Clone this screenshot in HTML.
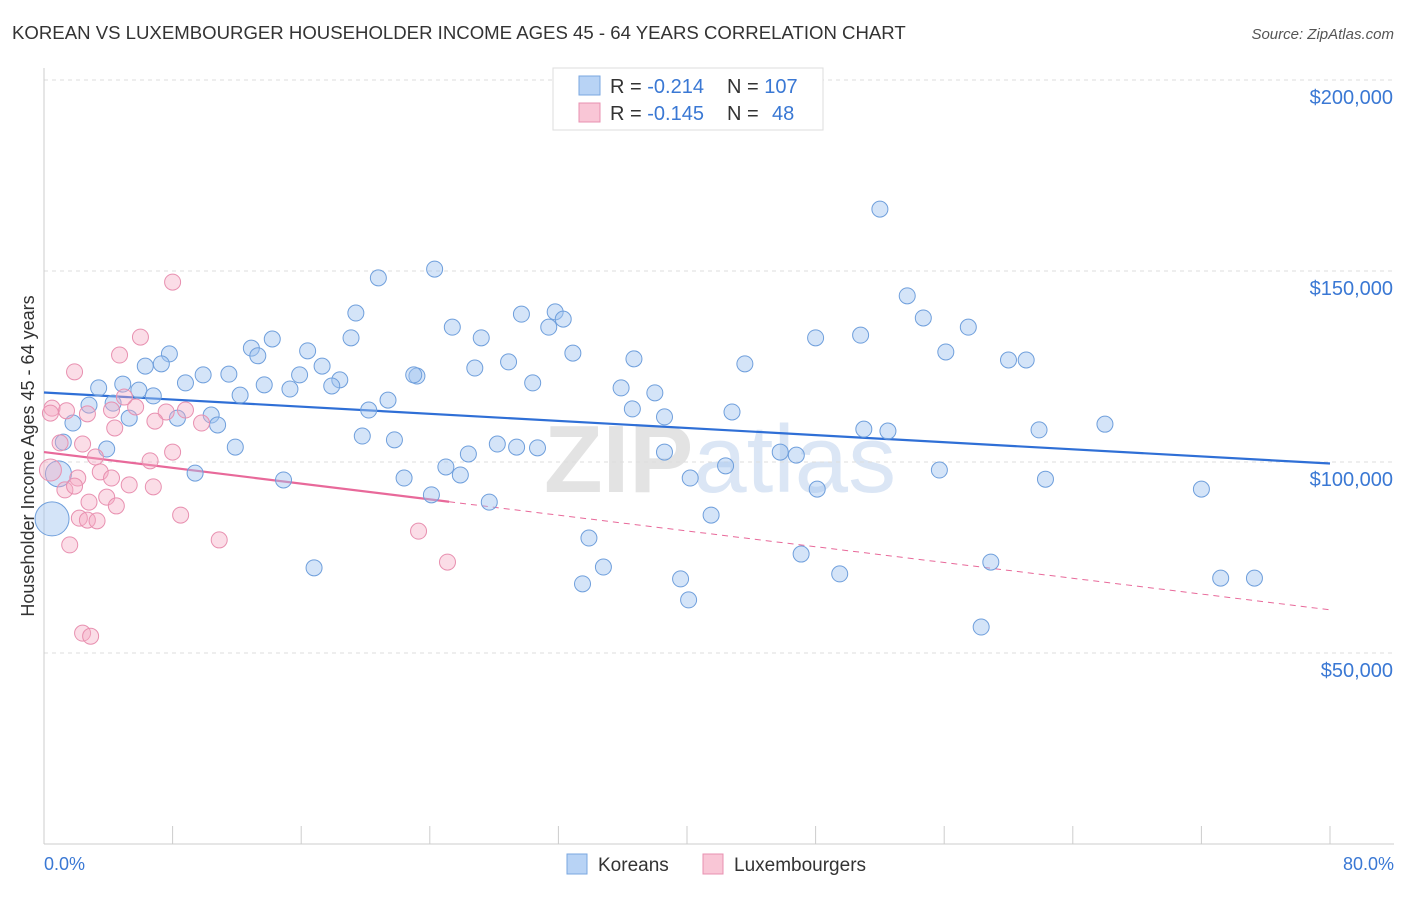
<!DOCTYPE html>
<html><head><meta charset="utf-8"><style>
body{margin:0;background:#fff;font-family:"Liberation Sans",sans-serif;}
svg text{font-family:"Liberation Sans",sans-serif;}
</style></head><body>
<svg id="chart" width="1406" height="892">
<text x="12" y="39" font-size="18.6" fill="#333">KOREAN VS LUXEMBOURGER HOUSEHOLDER INCOME AGES 45 - 64 YEARS CORRELATION CHART</text>
<text x="1394" y="39" font-size="15" fill="#555" text-anchor="end" font-style="italic">Source: ZipAtlas.com</text>
<text x="720" y="492" font-size="96" fill="#e3e3e3" text-anchor="middle" font-weight="bold">ZIP<tspan fill="#dbe6f5" font-weight="normal">atlas</tspan></text>
<g id="grid"></g><g id="axes"></g><g id="trends"></g><g id="pts"></g>
<text transform="translate(34,456) rotate(-90)" font-size="18" fill="#333" text-anchor="middle">Householder Income Ages 45 - 64 years</text>
<text x="44" y="870" font-size="18" fill="#3a78d4">0.0%</text>
<text x="1394" y="870" font-size="18" fill="#3a78d4" text-anchor="end">80.0%</text>
<g>
<rect x="553" y="68" width="270" height="62" fill="#fff" stroke="#ddd"/>
<rect x="579" y="76" width="21" height="19" fill="#b8d3f5" stroke="#7aa7e0"/>
<rect x="579" y="103" width="21" height="19" fill="#f9c6d6" stroke="#e890b0"/>
<text x="610" y="93" font-size="20" fill="#333">R = <tspan fill="#3a78d4">-0.214</tspan></text>
<text x="727" y="93" font-size="20" fill="#333">N = <tspan fill="#3a78d4">107</tspan></text>
<text x="610" y="120" font-size="20" fill="#333">R = <tspan fill="#3a78d4">-0.145</tspan></text>
<text x="727" y="120" font-size="20" fill="#333">N = <tspan fill="#3a78d4" x="772">48</tspan></text>
</g>
<g>
<rect x="567" y="854" width="20" height="20" fill="#b8d3f5" stroke="#7aa7e0"/>
<text x="598" y="871" font-size="19" fill="#333">Koreans</text>
<rect x="703" y="854" width="20" height="20" fill="#f9c6d6" stroke="#e890b0"/>
<text x="734" y="871" font-size="19" fill="#333">Luxembourgers</text>
</g>
</svg>
<script>
const yTicks=[50000,100000,150000,200000];
const yTickLabels=["$50,000","$100,000","$150,000","$200,000"];
const koreanX=[52.0,24.3,20.8,53.7,54.7,19.4,25.4,29.7,31.8,32.3,31.4,57.5,19.1,27.2,48.0,50.8,14.2,12.9,16.4,32.9,36.7,56.1,60.0,61.1,7.8,13.3,6.3,7.3,17.3,26.8,28.9,43.6,15.9,18.4,23.2,23.0,11.5,9.9,8.8,3.4,4.9,5.9,13.7,15.3,17.9,30.4,35.9,38.0,6.8,12.2,4.3,2.8,21.4,20.2,10.4,36.6,38.6,42.8,5.3,8.3,10.8,66.0,61.9,1.8,51.0,52.5,19.8,21.8,11.9,28.2,29.4,30.7,3.9,26.4,38.6,45.8,46.8,1.2,25.0,25.9,42.4,55.7,9.4,22.4,40.2,62.3,14.9,24.1,48.1,72.0,27.7,41.5,33.9,47.1,16.8,34.8,49.5,58.9,39.6,33.5,73.2,75.3,40.1,58.3,0.5,0.9];
const koreanY=[166.2,150.5,148.2,143.5,137.7,139.0,135.3,138.7,139.3,137.4,135.3,135.3,132.5,132.5,132.5,133.2,132.2,129.8,129.1,128.5,127.0,128.8,126.7,126.7,128.3,127.8,125.1,125.7,125.1,124.6,126.2,125.7,122.8,121.5,122.5,122.8,123.0,122.8,120.7,119.4,120.4,118.8,120.2,119.1,119.9,120.7,119.4,118.1,117.3,117.5,115.4,114.9,116.2,113.6,112.3,113.9,111.8,113.1,111.5,111.5,109.7,109.9,108.4,110.2,108.6,108.1,106.8,105.8,103.9,104.7,103.9,103.7,103.4,102.1,102.6,102.6,101.8,105.2,98.7,96.6,99.0,97.9,97.1,95.8,95.8,95.5,95.3,91.4,92.9,92.9,89.5,86.1,80.1,75.9,72.3,72.5,70.7,73.8,69.4,68.1,69.6,69.6,63.9,56.8,85.1,96.9];
const luxX=[8.0,6.0,4.7,1.9,0.5,0.4,1.4,2.7,4.2,5.7,7.6,8.8,5.0,4.4,6.9,9.8,1.0,2.4,8.0,3.2,6.6,3.5,2.1,4.2,5.3,6.8,1.3,1.9,3.9,2.8,4.5,8.5,2.2,2.7,3.3,10.9,1.6,23.3,25.1,2.4,2.9,0.4];
const luxY=[147.1,132.7,128.0,123.6,114.1,112.8,113.4,112.6,113.6,114.4,113.1,113.6,117.0,108.9,110.7,110.2,105.0,104.7,102.6,101.3,100.3,97.4,95.8,95.8,94.0,93.5,92.7,93.7,90.8,89.5,88.5,86.1,85.3,84.8,84.6,79.6,78.3,81.9,73.8,55.2,54.4,97.9];
const blueTrend=[118.2,99.6];
const pinkTrend=[102.6,61.3];
const pinkSolidEnd=25.2;

const NS="http://www.w3.org/2000/svg";
const X0=44,X1=1330;
const xs=p=>X0+(X1-X0)*p/80;
const ys=v=>462-(v-100)*3.82;
function mk(t,a,parent){const e=document.createElementNS(NS,t);for(const k in a)e.setAttribute(k,a[k]);parent.appendChild(e);return e;}
const grid=document.getElementById('grid'),axes=document.getElementById('axes'),tr=document.getElementById('trends'),pts=document.getElementById('pts');
yTicks.forEach((t,i)=>{
 const y=ys(t/1000);
 const l=mk('line',{x1:X0,x2:1394,y1:y,y2:y,stroke:'#ddd','stroke-dasharray':'4,4'},grid);
 
 
 const tx=mk('text',{x:1393,y:y+24,'font-size':20,fill:'#3a78d4','text-anchor':'end'},grid);
 tx.textContent=yTickLabels[i];
 
 
});
const ax=mk('line',{x1:X0,x2:X0,y1:68,y2:844,stroke:'#ccc'},axes);


const bx=mk('line',{x1:X0,x2:1394,y1:844,y2:844,stroke:'#ccc'},axes);


for(let p=0;p<=80;p+=8){
 const t=mk('line',{x1:xs(p),x2:xs(p),y1:826,y2:844,stroke:'#ccc'},axes);
 
 
}
const bl=mk('line',{x1:xs(0),y1:ys(blueTrend[0]),x2:xs(80),y2:ys(blueTrend[1]),stroke:'#2f6fd6','stroke-width':2.2},tr);


const pm=pinkTrend[0]+(pinkTrend[1]-pinkTrend[0])*pinkSolidEnd/80;
const ps=mk('line',{x1:xs(0),y1:ys(pinkTrend[0]),x2:xs(pinkSolidEnd),y2:ys(pm),stroke:'#e8699a','stroke-width':2.2},tr);


const pd=mk('line',{x1:xs(pinkSolidEnd),y1:ys(pm),x2:xs(80),y2:ys(pinkTrend[1]),stroke:'#e8699a','stroke-width':1,'stroke-dasharray':'6,5'},tr);


koreanX.forEach((x,i)=>{
 const big=i===koreanX.length-2?17:(i===koreanX.length-1?13:8);
 const c=mk('circle',{cx:xs(x),cy:ys(koreanY[i]),r:big,fill:'rgba(160,195,240,0.45)',stroke:'#6f9fdc','stroke-width':1},pts);
 
 
});
luxX.forEach((x,i)=>{
 const r=i===luxX.length-1?11:8;
 const c=mk('circle',{cx:xs(x),cy:ys(luxY[i]),r:r,fill:'rgba(245,170,195,0.4)',stroke:'#e890b0','stroke-width':1},pts);
 
 
});
</script>
</body></html>
